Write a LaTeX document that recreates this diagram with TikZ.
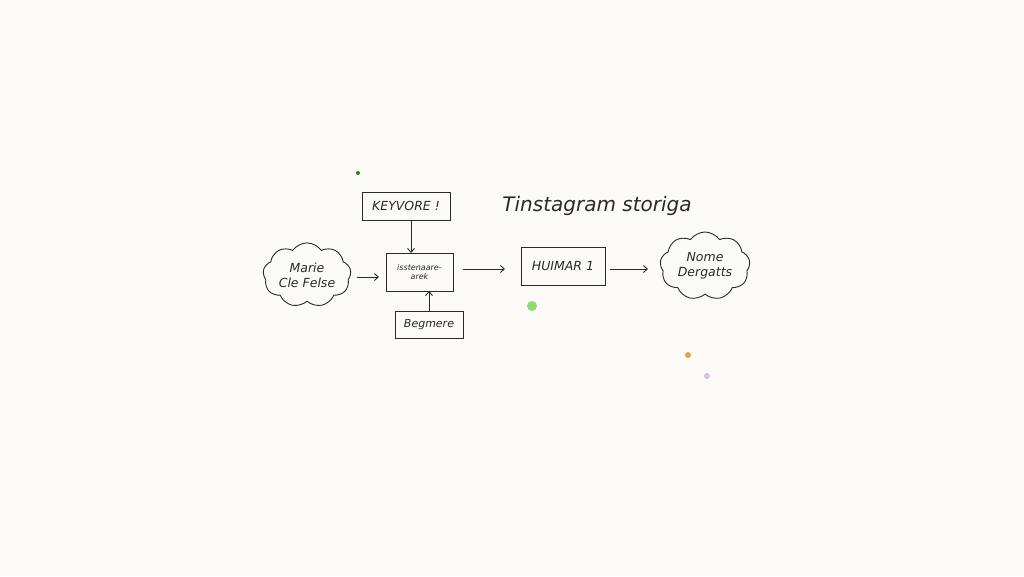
\documentclass[tikz,border=0pt]{standalone}
\usepackage{fontspec}
\setmainfont{DejaVu Sans}
\usetikzlibrary{shapes.symbols,arrows.meta}
\definecolor{paper}{HTML}{FBFAF7}
\definecolor{ink}{HTML}{2A2A2A}
\definecolor{dkgreen}{HTML}{2E7D1E}
\definecolor{ltgreen}{HTML}{8EDC6E}
\definecolor{dotorange}{HTML}{E0A040}
\definecolor{dotpink}{HTML}{E0C0E8}
\tikzset{
  sketchbox/.style={draw=ink, line width=0.9pt, inner sep=0pt, font=\fontsize{12.5}{14}\selectfont\itshape, text=ink, align=center},
  sketchcloud/.style={cloud, cloud puffs=9, cloud puff arc=110, aspect=1.5, draw=ink, line width=0.9pt, inner sep=0pt, font=\fontsize{12.5}{15}\selectfont\itshape, text=ink, align=center},
  flow/.style={draw=ink, line width=0.9pt, -{Straight Barb[length=4pt,width=7pt]}},
  titletext/.style={font=\fontsize{20}{22}\selectfont\itshape, text=ink}
}
\begin{document}
\begin{tikzpicture}[x=1pt,y=-1pt]
\fill[paper] (0,0) rectangle (1024,576);
\useasboundingbox (0,0) rectangle (1024,576);

\node[sketchbox, minimum width=88pt, minimum height=28pt] (key) at (406,206) {KEYVORE !};
\node[sketchbox, minimum width=67pt, minimum height=38pt, font=\fontsize{8}{9.5}\selectfont\itshape] (mid) at (419.5,272) {isstenaare-\\arek};
\node[sketchbox, minimum width=68pt, minimum height=27pt, font=\fontsize{11}{13}\selectfont\itshape] (beg) at (429,324.5) {Begmere};
\node[sketchbox, minimum width=84pt, minimum height=38pt] (hui) at (563,266) {HUIMAR 1};
\node[sketchcloud, minimum width=88pt, minimum height=58pt] (lcloud) at (307,275) {Marie\\Cle Felse};
\node[sketchcloud, minimum width=90pt, minimum height=68pt] (rcloud) at (705,266) {Nome\\Dergatts};
\node[titletext] (title) at (597,206) {Tinstagram storiga};

\coordinate (keyb) at (411,220);
\coordinate (midt) at (411,253);
\coordinate (begt) at (429,311);
\coordinate (midb) at (429,291);
\coordinate (la) at (357,277);
\coordinate (lb) at (379,277);
\coordinate (ma) at (463,269);
\coordinate (mb) at (505,269);
\coordinate (ha) at (610,269);
\coordinate (hb) at (648,269);
\draw[flow] (keyb) -- (midt);
\draw[flow] (begt) -- (midb);
\draw[flow] (la) -- (lb);
\draw[flow] (ma) -- (mb);
\draw[flow] (ha) -- (hb);

\fill[dkgreen] (358,173) circle (2pt);
\fill[ltgreen] (532,306) circle (5pt);
\fill[dotorange] (688,355) circle (3pt);
\fill[dotpink] (707,376) circle (3pt);
\end{tikzpicture}
\end{document}
